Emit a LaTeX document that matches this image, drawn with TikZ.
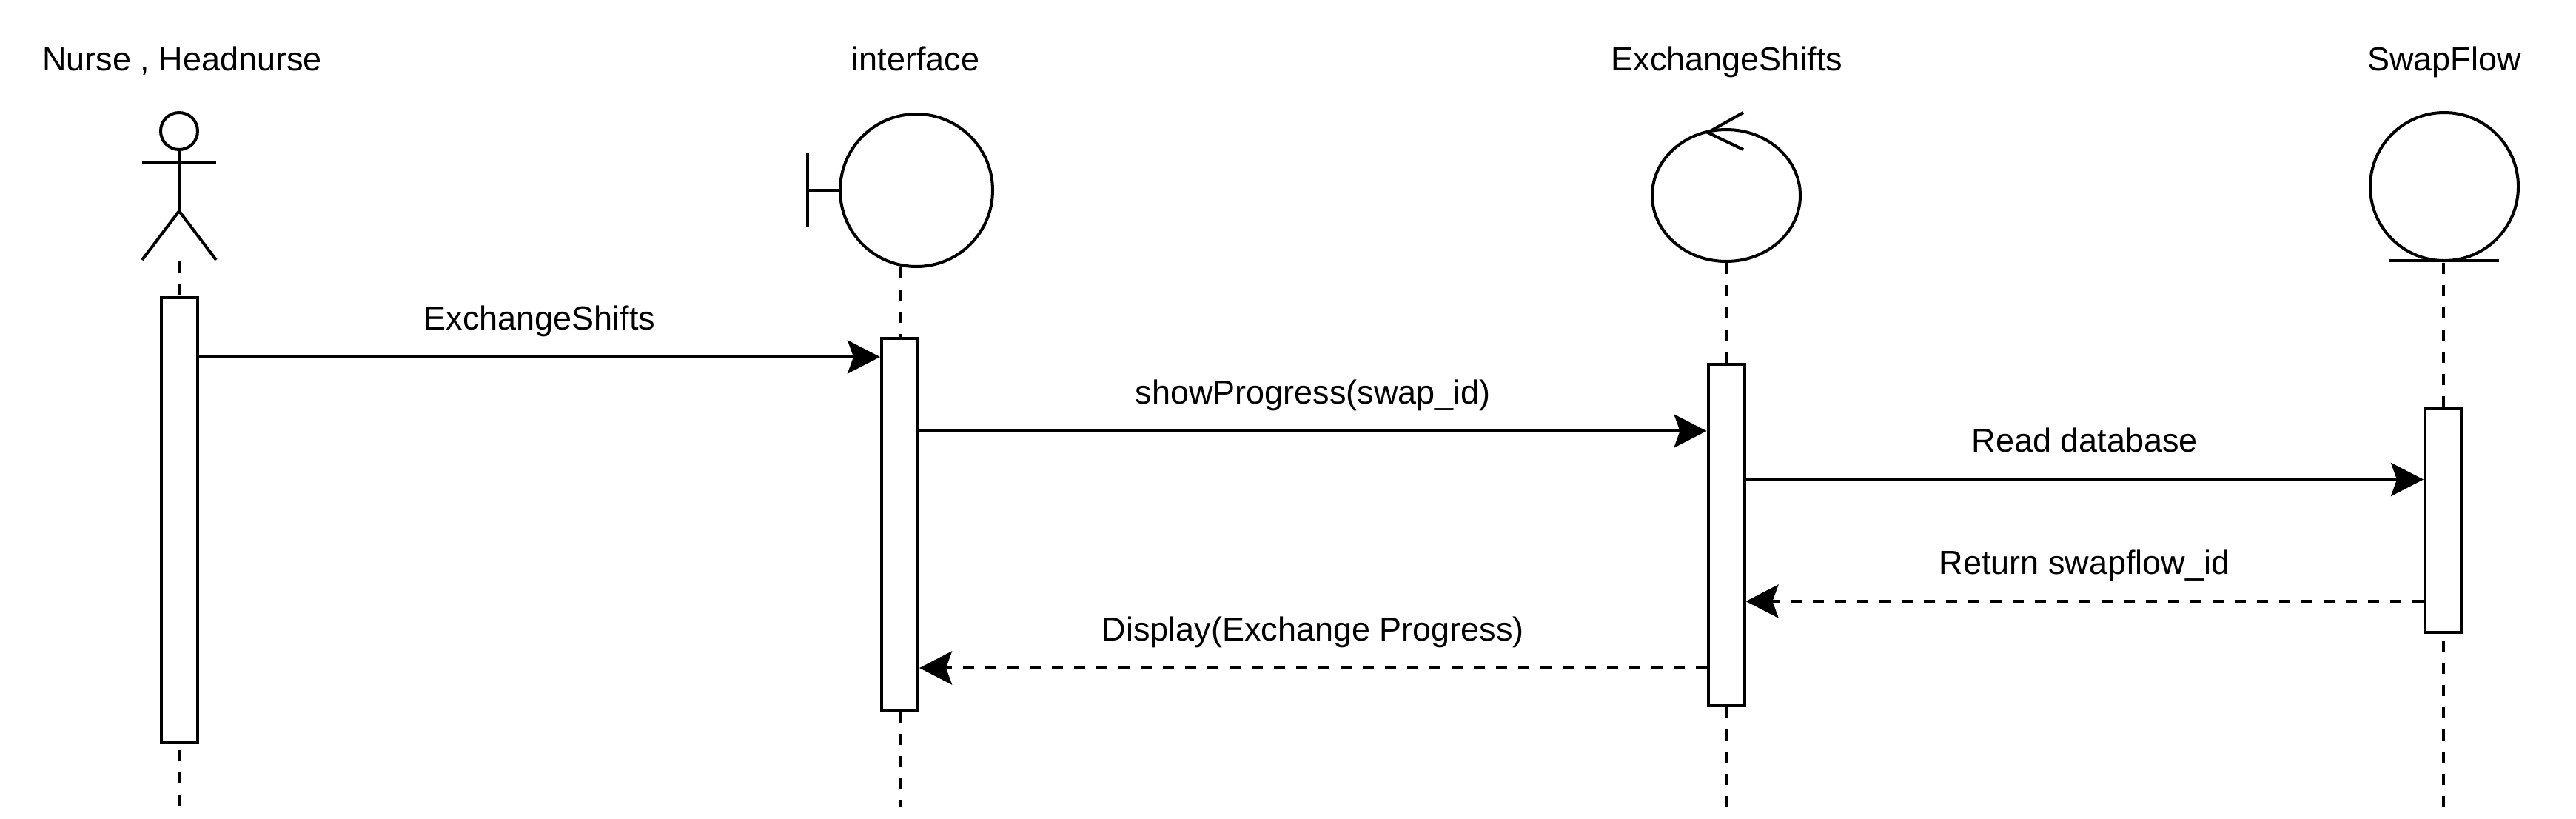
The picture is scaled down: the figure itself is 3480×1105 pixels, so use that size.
\documentclass[tikz,border=0pt]{standalone}
\usepackage{fontspec}
\setmainfont{Liberation Sans}
\usetikzlibrary{arrows.meta}
\tikzset{
	sym/.style={line width=1pt},
	life/.style={line width=1pt, dash pattern=on 3.75pt off 3.75pt},
	actbox/.style={draw, fill=white, line width=1pt, minimum width=12.25pt, inner sep=0pt},
	title/.style={anchor=base, inner sep=0pt},
	msg/.style={line width=1.1pt, -{Stealth[length=11pt, width=11.25pt, inset=2pt]}},
	reply/.style={msg, dash pattern=on 3.75pt off 3.75pt},
	lbl/.style={midway, anchor=base, yshift=9.25pt, inner sep=0pt}
}

\begin{document}
\begin{tikzpicture}[x=0.25pt, y=-0.25pt, every node/.style={font=\fontsize{11.25}{13.5}\selectfont}]
		%%%%% START %%%%%
		\useasboundingbox (0,0) rectangle (3480,1105);
		
		\node[title] (tNurse) at (246,95) {Nurse , Headnurse};
		\node[title] (tIface) at (1237,95) {interface};
		\node[title] (tExch) at (2333,95) {ExchangeShifts};
		\node[title] (tSwap) at (3302,95) {SwapFlow};
		
		% actor
		\draw[sym] (242,177) circle (25);
		\draw[sym] (192,219) -- (292,219);
		\draw[sym] (242,202) -- (242,285);
		\draw[sym] (192,351) -- (242,285) -- (292,351);
		
		% boundary
		\draw[sym] (1238,257) circle (103);
		\draw[sym] (1091,207) -- (1091,307);
		\draw[sym] (1091,257) -- (1135,257);
		
		% control
		\draw[sym] (2332,264) ellipse (100 and 89);
		\draw[sym] (2355,152) -- (2307,179) -- (2355,202);
		
		% entity
		\draw[sym] (3302,252) circle (100);
		\draw[sym] (3228,352) -- (3376,352);
		
		% lifelines
		\coordinate (nurseTop) at (242,353);
		\coordinate (nurseEnd) at (242,1090);
		\coordinate (ifaceTop) at (1216,361);
		\coordinate (ifaceEnd) at (1216,1090);
		\coordinate (exchTop) at (2332,355);
		\coordinate (exchEnd) at (2332,1090);
		\coordinate (swapTop) at (3301,355);
		\coordinate (swapEnd) at (3301,1090);
		\draw[life] (nurseTop) -- (nurseEnd);
		\draw[life] (ifaceTop) -- (ifaceEnd);
		\draw[life] (exchTop) -- (exchEnd);
		\draw[life] (swapTop) -- (swapEnd);
		
		% activations
		\node[actbox, minimum height=150.25pt] (actNurse) at (242.5,702.5) {};
		\node[actbox, minimum height=125.5pt] (actIface) at (1215.5,708) {};
		\node[actbox, minimum height=115.25pt] (actExch) at (2332,722.5) {};
		\node[actbox, minimum height=75.5pt] (actSwap) at (3300.5,703) {};
		
		% messages
		\coordinate (m1) at (0,482);
		\coordinate (m2) at (0,582);
		\coordinate (m3) at (0,647.5);
		\coordinate (m4) at (0,812);
		\coordinate (m5) at (0,902);
		\draw[msg] (actNurse.east |- m1) -- (actIface.west |- m1) node[lbl] {ExchangeShifts};
		\draw[msg] (actIface.east |- m2) -- (actExch.west |- m2) node[lbl] {showProgress(swap\_id)};
		\draw[msg] (actExch.east |- m3) -- (actSwap.west |- m3) node[lbl] {Read database};
		\draw[reply] (actSwap.west |- m4) -- (actExch.east |- m4) node[lbl] {Return swapflow\_id};
		\draw[reply] (actExch.west |- m5) -- (actIface.east |- m5) node[lbl] {Display(Exchange Progress)};
		%%%%% END %%%%%
	\end{tikzpicture}
\end{document}
